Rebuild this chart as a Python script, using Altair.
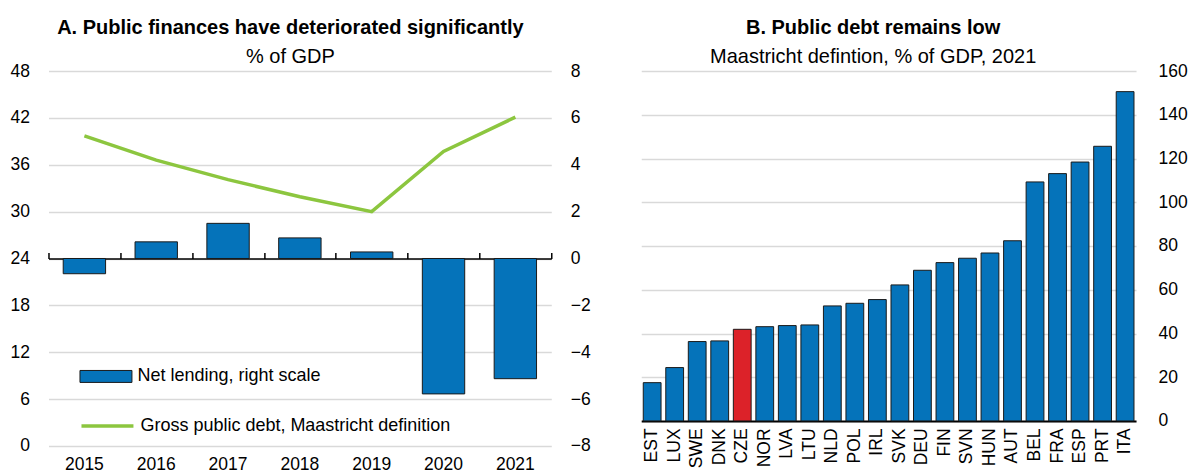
import altair as alt
import pandas as pd

# ---- Panel A data ----
years = ["2015", "2016", "2017", "2018", "2019", "2020", "2021"]
net_lending = [-0.65, 0.71, 1.5, 0.88, 0.28, -5.78, -5.13]
gross_debt = [39.7, 36.6, 34.1, 31.9, 30.0, 37.7, 42.1]

# ---- Panel B data ----
countries = ["EST", "LUX", "SWE", "DNK", "CZE", "NOR", "LVA", "LTU", "NLD", "POL",
             "IRL", "SVK", "DEU", "FIN", "SVN", "HUN", "AUT", "BEL", "FRA", "ESP",
             "PRT", "ITA"]
debt_2021 = [17.5, 24.4, 36.3, 36.6, 41.9, 43.1, 43.6, 43.9, 52.6, 53.8,
             55.5, 62.2, 68.9, 72.4, 74.4, 76.8, 82.4, 109.3, 113.1, 118.4,
             125.6, 150.6]
highlight = "CZE"

BLUE = "#0573BA"
GREEN = "#8CC63F"
RED = "#DC2229"
GRID = "#D9D9D9"
FONT = "Liberation Sans, Arial, sans-serif"
FS = 17.5

dfA = pd.DataFrame({"year": years, "net": net_lending, "debt": gross_debt,
                    "bar_lbl": ["Net lending, right scale"] * len(years),
                    "line_lbl": ["Gross public debt, Maastricht definition"] * len(years)})
dfB = pd.DataFrame({"country": countries, "debt": debt_2021,
                    "hl": ["hl" if c == highlight else "base" for c in countries]})

xA_scale = alt.Scale(paddingInner=0, paddingOuter=0)

bars = alt.Chart(dfA).mark_bar(stroke="#1a1a1a", strokeWidth=1, width={"band": 0.59}).encode(
    x=alt.X("year:N", sort=years, scale=xA_scale,
            axis=alt.Axis(orient="top", offset=-187.5, labels=False, title=None,
                          domain=True, domainColor="black", domainWidth=1.5,
                          ticks=True, tickBand="extent", tickColor="black",
                          tickWidth=1.5, tickSize=6, grid=False)),
    y=alt.Y("net:Q", scale=alt.Scale(domain=[-8, 8], nice=False),
            axis=alt.Axis(orient="right", values=list(range(-8, 9, 2)), title=None,
                          grid=True, gridColor=GRID, gridWidth=1.5, domain=False,
                          ticks=False, tickSize=0, labelPadding=19, labelAlign="left")),
    fill=alt.Fill("bar_lbl:N", scale=alt.Scale(range=[BLUE]),
                  legend=alt.Legend(title=None, orient="none", legendX=31, legendY=279,
                                    symbolType="M-1,-0.23H1V0.23H-1Z", symbolSize=2704,
                                    symbolStrokeColor="#1a1a1a", symbolStrokeWidth=1,
                                    symbolFillColor=BLUE, labelFont=FONT, labelFontSize=18,
                                    labelColor="black", labelOffset=5, padding=0,
                                    labelLimit=400)),
)

line = alt.Chart(dfA).mark_line(strokeWidth=3.5).encode(
    x=alt.X("year:N", sort=years, scale=xA_scale,
            axis=alt.Axis(orient="bottom", title=None, labelAngle=0, domain=False,
                          ticks=False, tickSize=0, labelPadding=10, grid=False)),
    y=alt.Y("debt:Q", scale=alt.Scale(domain=[0, 48], nice=False),
            axis=alt.Axis(orient="left", values=list(range(0, 49, 6)), title=None,
                          grid=False, domain=False, ticks=False, tickSize=0,
                          labelPadding=19)),
    stroke=alt.Stroke("line_lbl:N", scale=alt.Scale(range=[GREEN]),
                      legend=alt.Legend(title=None, orient="none", legendX=31, legendY=327,
                                        symbolType="stroke", symbolSize=2704,
                                        symbolStrokeWidth=3.5, labelFont=FONT,
                                        labelFontSize=18, labelColor="black",
                                        labelOffset=5, padding=0, labelLimit=400)),
)

panelA = alt.layer(bars, line).resolve_scale(y="independent", fill="independent",
                                              stroke="independent").resolve_axis(
    x="independent").properties(
    width=503, height=375,
    title=alt.TitleParams("A. Public finances have deteriorated significantly",
                          subtitle="% of GDP", dx=-9.5))

panelB = alt.Chart(dfB).mark_bar(stroke="#1a1a1a", strokeWidth=1).encode(
    x=alt.X("country:N", sort=countries,
            scale=alt.Scale(paddingInner=0.21, paddingOuter=0.09),
            axis=alt.Axis(title=None, labelAngle=-90, labelAlign="right",
                          labelBaseline="middle", domain=True, domainColor="black",
                          domainWidth=2, ticks=False, tickSize=0, labelPadding=7,
                          grid=False)),
    y=alt.Y("debt:Q", scale=alt.Scale(domain=[0, 160], nice=False),
            axis=alt.Axis(orient="right", values=list(range(0, 161, 20)), title=None,
                          grid=True, gridColor=GRID, gridWidth=1.5, domain=False,
                          ticks=False, tickSize=0, labelPadding=22, labelAlign="left")),
    fill=alt.Fill("hl:N", scale=alt.Scale(domain=["base", "hl"], range=[BLUE, RED]),
                  legend=None),
).properties(
    width=495, height=350,
    title=alt.TitleParams("B. Public debt remains low",
                          subtitle="Maastricht defintion, % of GDP, 2021", dx=-15.5))

chart = alt.hconcat(panelA, panelB, spacing=51).resolve_scale(
    fill="independent").properties(
    padding={"left": 1.5, "top": 9, "right": 0, "bottom": 0}
).configure_view(stroke=None).configure_axis(
    labelFont=FONT, labelFontSize=FS, labelColor="black"
).configure_title(
    font=FONT, fontSize=20, fontWeight="bold", color="black", anchor="middle",
    subtitleFont=FONT, subtitleFontSize=20, subtitleColor="black",
    subtitlePadding=9.5, offset=-5
).configure_legend(labelFont=FONT)

chart.save("out.html", embed_options={"renderer": "svg", "actions": False})
